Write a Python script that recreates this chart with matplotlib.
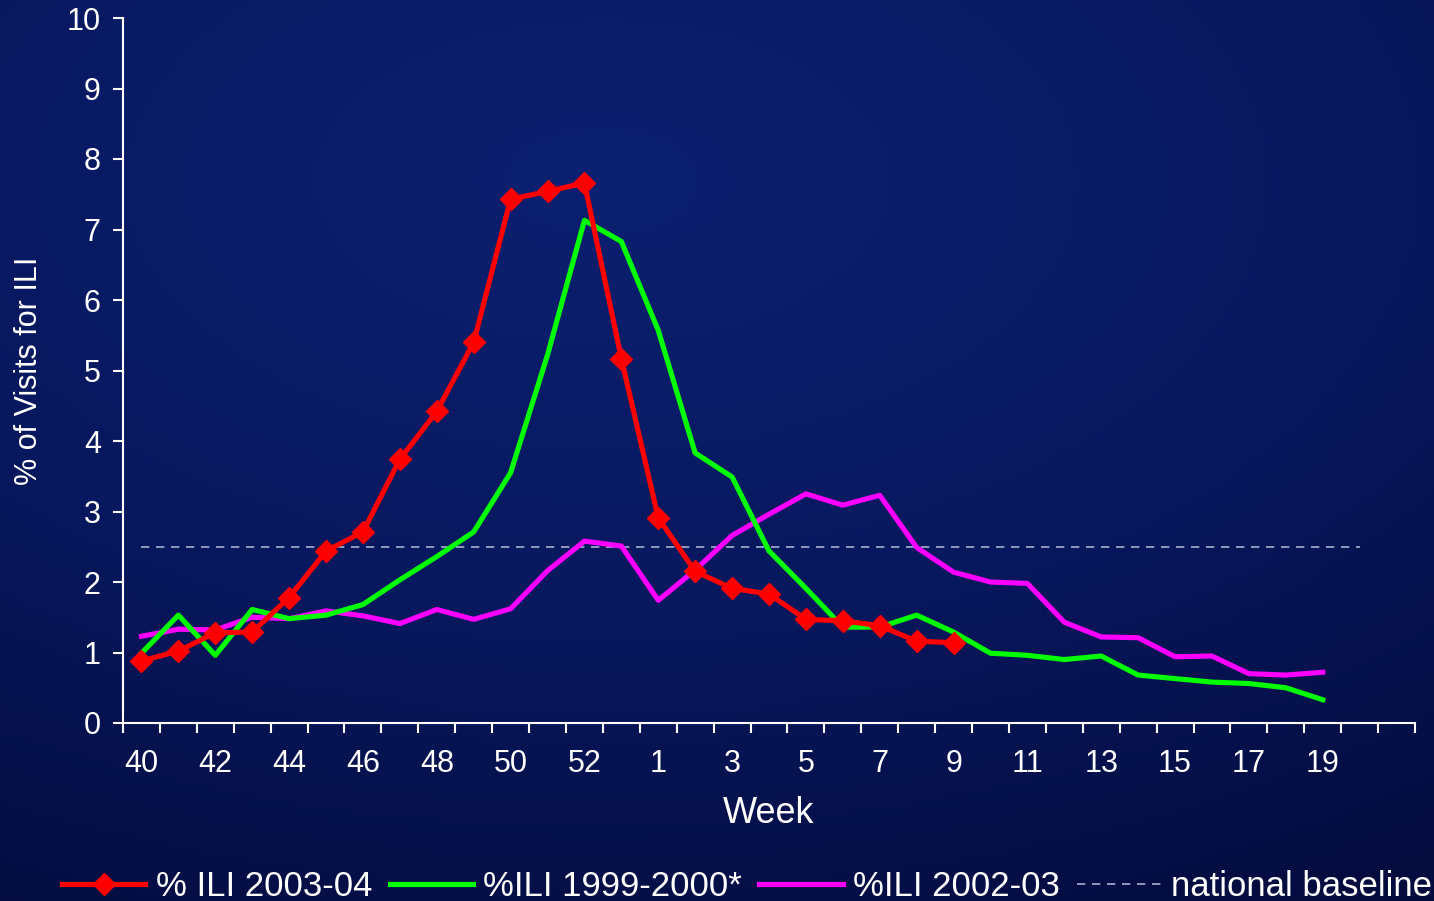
import numpy as np
import matplotlib
matplotlib.use('Agg')
import matplotlib.pyplot as plt
from matplotlib.lines import Line2D
from matplotlib.colors import LinearSegmentedColormap

# week categories: 2003 had a week 53
weeks = list(range(40, 54)) + list(range(1, 22))

ili_2003_04 = [0.88, 1.02, 1.28, 1.29, 1.78, 2.44, 2.71, 3.74, 4.42, 5.40,
               7.43, 7.54, 7.66, 5.17, 2.91, 2.15, 1.91, 1.83, 1.47, 1.45,
               1.38, 1.16, 1.14]
ili_1999_2000 = [0.99, 1.53, 0.96, 1.61, 1.48, 1.53, 1.68, 2.03, 2.36, 2.71,
                 3.55, 5.22, 7.13, 6.83, 5.57, 3.83, 3.49, 2.44, 1.91, 1.36,
                 1.36, 1.53, 1.29, 0.99, 0.96, 0.90, 0.95, 0.68, 0.63, 0.58,
                 0.56, 0.50, 0.33]
ili_2002_03 = [1.23, 1.33, 1.32, 1.50, 1.48, 1.59, 1.52, 1.41, 1.61, 1.47,
               1.62, 2.16, 2.58, 2.51, 1.74, 2.17, 2.66, 2.96, 3.25, 3.09,
               3.23, 2.49, 2.14, 2.00, 1.98, 1.43, 1.22, 1.21, 0.94, 0.95,
               0.70, 0.68, 0.72]
baseline = 2.5
n_baseline = 34

plt.rcParams['font.family'] = ['Liberation Sans', 'DejaVu Sans']

fig = plt.figure(figsize=(14.34, 9.01), dpi=100)

# dark blue gradient background
bg = fig.add_axes([0, 0, 1, 1], zorder=-10)
yy, xx = np.mgrid[0:1:200j, 0:1:300j]
r = np.sqrt(((xx - 0.42) / 1.0) ** 2 + ((yy - 0.2) / 0.9) ** 2)
cmap = LinearSegmentedColormap.from_list('bg', ['#0b2070', '#08185e', '#040b3c'])
bg.imshow(r, cmap=cmap, aspect='auto', extent=[0, 1, 0, 1])
bg.axis('off')

ax = fig.add_axes([123 / 1434, 1 - 723 / 901, (1415 - 123) / 1434, (723 - 18) / 901])
ax.patch.set_alpha(0)

x = np.arange(len(weeks))
ax.plot(x[:n_baseline], [baseline] * n_baseline, color='#a8aed0', lw=1.2,
        ls=(0, (5, 4)), zorder=2)
ax.plot(x[:len(ili_2002_03)], ili_2002_03, color='#ff00ff', lw=3.7, zorder=3)
ax.plot(x[:len(ili_1999_2000)], ili_1999_2000, color='#00ff00', lw=3.7, zorder=4)
ax.plot(x[:len(ili_2003_04)], ili_2003_04, color='#ff0000', lw=3.7,
        marker='D', ms=11, zorder=5)

ax.set_xlim(-0.5, len(weeks) - 0.5)
ax.set_ylim(0, 10)
ax.set_yticks(range(0, 11))
ax.set_xticks(x[:33:2])
ax.set_xticklabels([str(w) for w in weeks[:33:2]])
ax.set_xticks(np.arange(-0.5, len(weeks)), minor=True)
ax.tick_params(axis='x', which='major', length=0, pad=19, labelsize=22, colors='white')
ax.tick_params(axis='x', which='minor', length=7, width=1.5, color='white', direction='out')
ax.tick_params(axis='y', length=7, width=1.5, color='white', labelcolor='white',
               labelsize=22, pad=9)
for s in ['top', 'right']:
    ax.spines[s].set_visible(False)
for s in ['left', 'bottom']:
    ax.spines[s].set_color('white')
    ax.spines[s].set_linewidth(1.5)

ax.set_xlabel('Week', color='white', fontsize=26, labelpad=12)
ax.set_ylabel('% of Visits for ILI', color='white', fontsize=22, labelpad=16)

handles = [
    Line2D([], [], color='#ff0000', lw=3.7, marker='D', ms=11),
    Line2D([], [], color='#00ff00', lw=3.7),
    Line2D([], [], color='#ff00ff', lw=3.7),
    Line2D([], [], color='#a8aed0', lw=1.2, ls=(0, (5, 4))),
]
labels = ['% ILI 2003-04', '%ILI 1999-2000*', '%ILI 2002-03', 'national baseline']
fig.legend(handles, labels, loc='lower center', bbox_to_anchor=(0.521, -0.037),
           ncol=4, frameon=False, fontsize=25, handlelength=2.4,
           columnspacing=0.5, handletextpad=0.3, labelcolor='white')

fig.savefig('out.png', dpi=100, facecolor='#061458')
